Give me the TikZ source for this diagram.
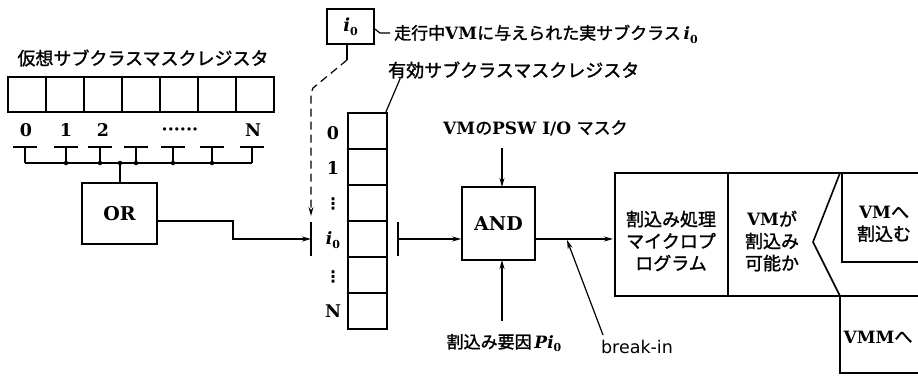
\documentclass[tikz,border=0pt]{standalone}
\usepackage{fontspec}
\setmainfont{DejaVu Serif}
\setsansfont{DejaVu Sans}
\newfontfamily\jp[FakeBold=1.5]{Noto Sans CJK JP}
\usetikzlibrary{arrows.meta,calc}
\newcommand{\izero}{{\bfseries\itshape i}\raisebox{-0.22em}{\fontsize{11}{12}\selectfont\bfseries 0}}
\tikzset{
  box/.style={draw, line width=1.6pt, inner sep=0pt},
  cell/.style={box, minimum width=38pt, minimum height=35pt},
  ecell/.style={box, minimum width=39pt, minimum height=36pt},
  wire/.style={line width=1.2pt},
  arr/.style={wire, -{Stealth[length=9pt,width=5pt]}},
  lbl/.style={inner sep=0pt, font=\fontsize{17}{20}\selectfont},
  jlbl/.style={inner sep=0pt, font=\fontsize{18}{22}\selectfont\jp},
  num/.style={inner sep=0pt, font=\fontsize{17.5}{18}\selectfont\bfseries},
  dot/.style={circle, fill, inner sep=0pt, minimum size=4.5pt},
  dashline/.style={wire, dash pattern=on 8pt off 5pt},
}
\begin{document}
\begin{tikzpicture}[x=1pt,y=-1pt]
\useasboundingbox (0,0) rectangle (918,375);

% ---------- virtual subclass mask register ----------
\node[jlbl] (vtitle) at (143,58) {仮想サブクラスマスクレジスタ};
\foreach \i in {0,...,6} {
  \node[cell] (vc\i) at (27+38*\i,94.5) {};
}
\node[num] (v0) at (26,130) {0};
\node[num] (v1) at (66,130) {1};
\node[num] (v2) at (103,130) {2};
\node[num] (vd) at (180,132) {\textperiodcentered\textperiodcentered\textperiodcentered\textperiodcentered\textperiodcentered\textperiodcentered};
\node[num] (vN) at (253,130) {N};

% T bars and bus
\foreach \k/\x in {0/25,1/66,2/100,3/136,4/173,5/212,6/252} {
  \coordinate (t\k) at (\x,147);
  \coordinate (b\k) at (\x,163);
  \draw[wire] ($(t\k)+(-12,0)$) -- ($(t\k)+(12,0)$);
  \draw[wire] (t\k) -- (b\k);
}
\draw[wire] (b0) -- (b6);
\coordinate (bj) at (120,163);
\foreach \k in {1,...,5} { \node[dot] at (b\k) {}; }
\node[dot] at (bj) {};

% OR gate
\node[box, minimum width=75pt, minimum height=61pt, font=\fontsize{19}{20}\selectfont\bfseries] (OR) at (119.5,213.5) {OR};
\draw[wire] (bj) -- (bj |- OR.north);

% gate bar 1 and OR output
\coordinate (g1) at (311,239);
\draw[arr] ($(OR.east)+(0,7.5)$) -- (233,221) -- (233,239) -- (g1);
\draw[wire] (311,222) -- (311,256);

% i0 box and label
\node[box, minimum width=47pt, minimum height=35pt, font=\fontsize{18}{20}\selectfont] (i0) at (350.5,26.5) {\izero};
\coordinate (hk) at (380,33);
\draw[wire] ($(i0.east)+(0,2.5)$) -- (hk) -- (390,33);
\node[lbl, anchor=west] (runlbl) at (394,34) {{\jp 走行中}\textbf{VM}{\jp に与えられた実サブクラス}\,\izero};

% dashed line from i0
\draw[wire] (i0.south -| 347,0) -- (347,60);
\draw[dashline, -{Stealth[length=9pt,width=5pt]}] (347,60) -- (313,88) -- (311,93) -- (311,216);

% ---------- effective subclass mask register ----------
\node[jlbl, anchor=west] (etitle) at (388,70) {有効サブクラスマスクレジスタ};
\foreach \i in {0,...,5} {
  \node[ecell] (ec\i) at (367.5,131+36*\i) {};
}
\draw[wire] ($(ec0.north east)+(-2,0)$) -- (400,79);
\node[num] (e0) at (333,133) {0};
\node[num] (e1) at (333,168) {1};
\node[num, font=\fontsize{16}{18}\selectfont\sffamily\bfseries] (e2) at (333,204) {⋮};
\node[lbl] (e3) at (333,240) {\izero};
\node[num, font=\fontsize{16}{18}\selectfont\sffamily\bfseries] (e4) at (333,277) {⋮};
\node[num] (e5) at (333,311) {N};

% gate bar 2
\coordinate (g2) at (398,239);
\draw[wire] (398,222) -- (398,256);

% ---------- AND ----------
\node[box, minimum width=73pt, minimum height=73pt, font=\fontsize{19}{20}\selectfont\bfseries] (AND) at (498.5,223.5) {AND};
\draw[arr] (g2) -- (g2 -| AND.west);

\node[lbl, anchor=west] (psw) at (443,128) {\textbf{VM}{\jp の}\textbf{PSW I/O} {\jp マスク}};
\draw[arr] (502,148) -- (502,187) coordinate (andtop);

\node[lbl] (pi) at (504,343) {{\jp 割込み要因}\,{\bfseries\itshape P}\izero};
\draw[arr] (502,321) -- (502,260);

% output
\coordinate (brk) at (567,240);
\draw[arr] (g2 -| AND.east) -- (613,239);
\node[inner sep=0pt, font=\fontsize{17.5}{20}\selectfont\sffamily] (bk) at (637,347) {break-in};
\draw[arr] (603,335) -- (brk);

% ---------- right boxes ----------
\draw[line width=1.6pt] (918,173) -- (615,173) -- (615,296) -- (918,296);
\draw[line width=1.6pt] (728,173) -- (728,296);
\draw[line width=1.6pt] (840,173) -- (813,242) -- (840,296);
\draw[line width=1.6pt] (842,173) -- (842,262) -- (918,262);
\draw[line width=1.6pt] (840,296) -- (840,373) -- (918,373);

\node[jlbl, align=center] (mp) at (671,241) {割込み処理\\マイクロプ\\ログラム};
\node[jlbl, align=center] (vmq) at (772,241) {{\fontspec{DejaVu Serif}\bfseries\fontsize{17}{22}\selectfont VM}が\\割込み\\可能か};
\node[jlbl, align=center] (vmi) at (884,224) {{\fontspec{DejaVu Serif}\bfseries\fontsize{17}{22}\selectfont VM}へ\\割込む};
\node[jlbl] (vmm) at (878,337) {{\fontspec{DejaVu Serif}\bfseries\fontsize{17}{22}\selectfont VMM}へ};
\end{tikzpicture}
\end{document}
